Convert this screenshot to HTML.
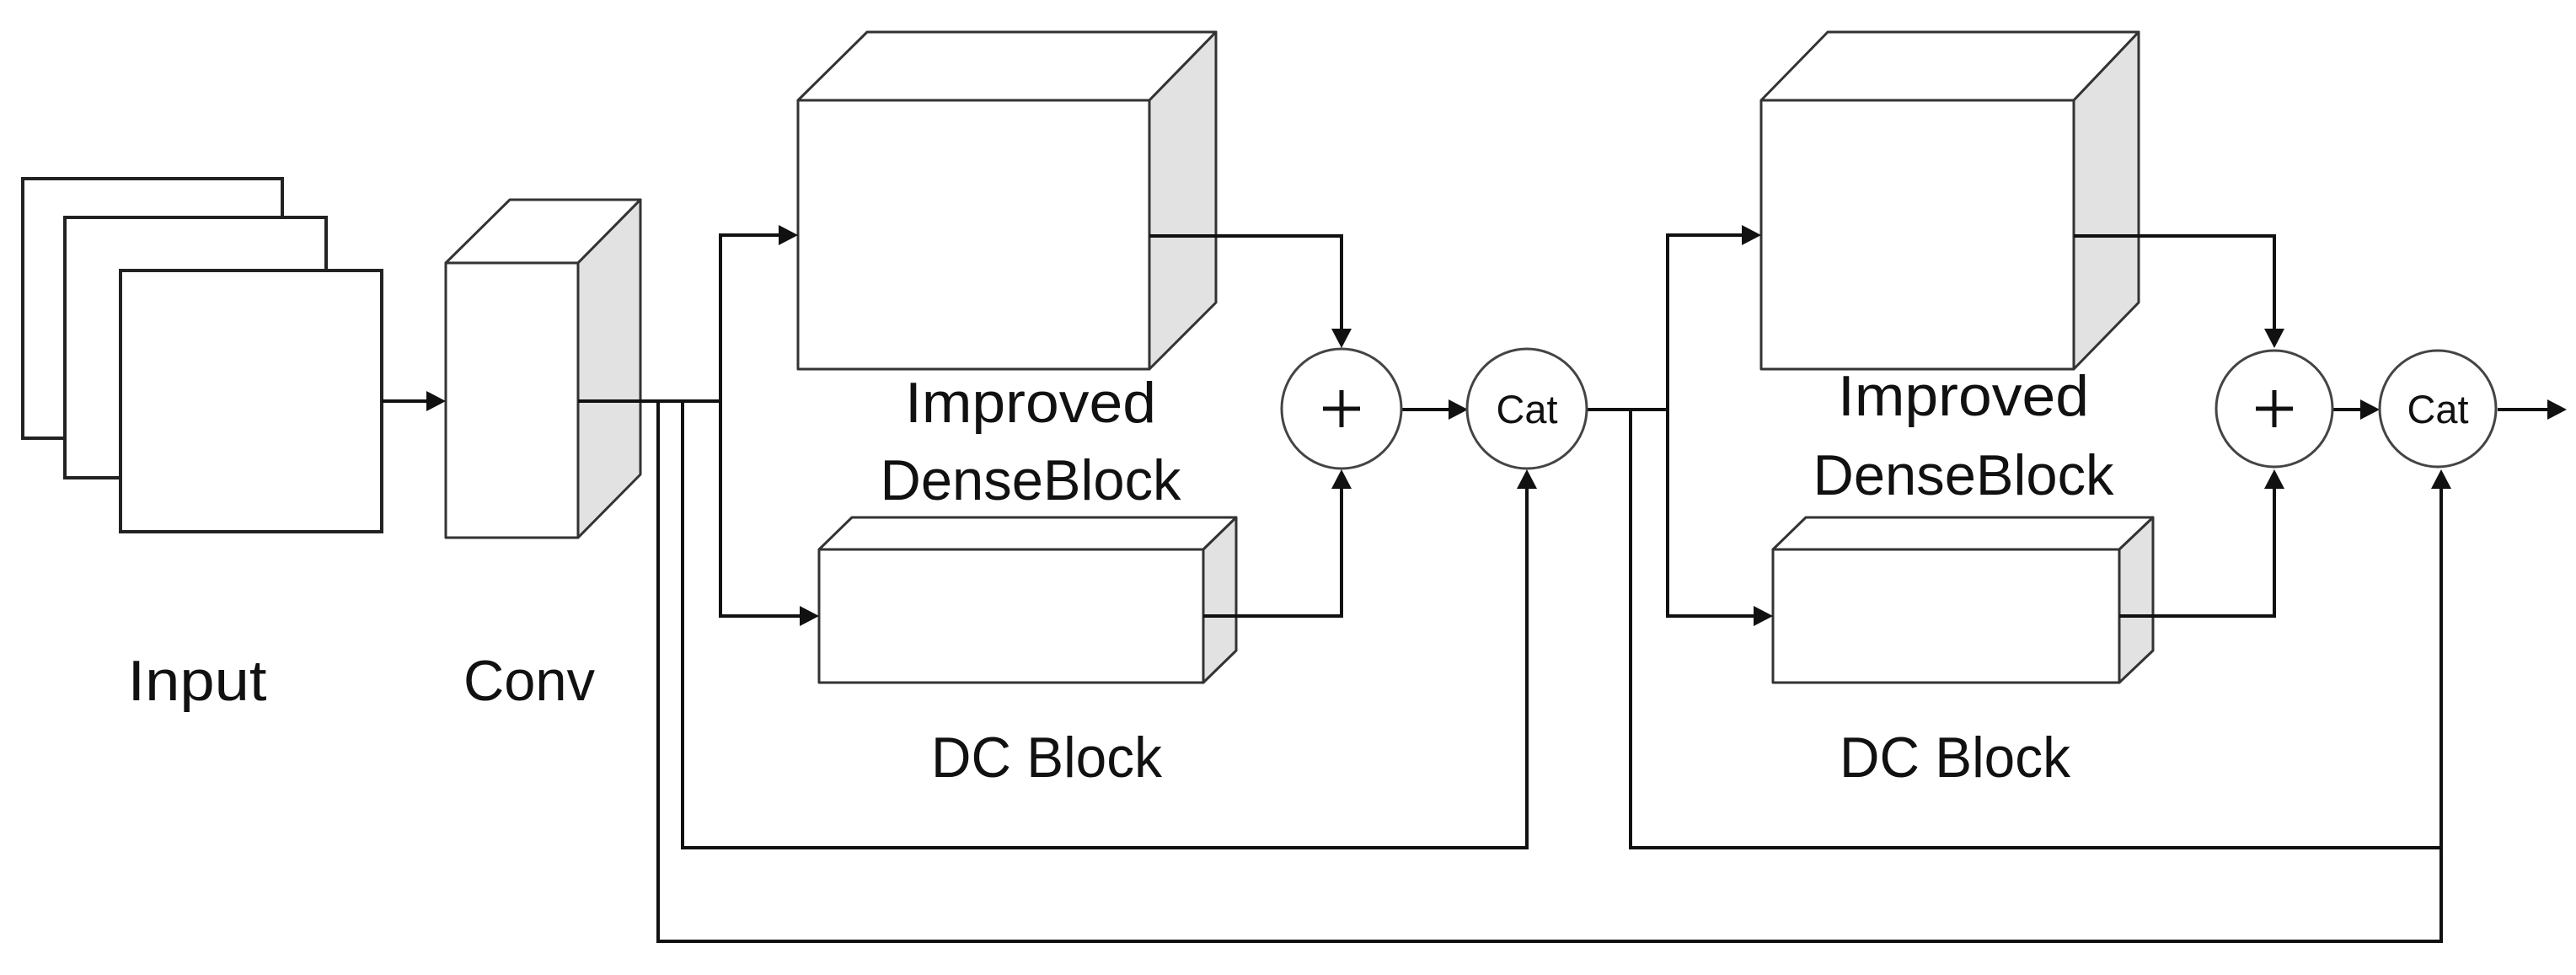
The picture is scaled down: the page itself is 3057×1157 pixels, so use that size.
<!DOCTYPE html>
<html><head><meta charset="utf-8"><style>
html,body{margin:0;padding:0;background:#fff;}
svg{display:block;}
text{font-family:"Liberation Sans",sans-serif;fill:#111;}
</style></head><body>
<svg width="3057" height="1157" viewBox="0 0 3057 1157" xmlns="http://www.w3.org/2000/svg">
<g stroke="#222" stroke-width="4" fill="#fff">
<rect x="27" y="212" width="308" height="308"/>
<rect x="77" y="258" width="310" height="309"/>
<rect x="143" y="321" width="310" height="310"/>
</g>
<g stroke="#333" stroke-width="3" stroke-linejoin="round">
<polygon points="529,312 605,237 760,237 686,312" fill="#fff"/>
<polygon points="686,312 760,237 760,563 686,638" fill="#e2e2e2"/>
<rect x="529" y="312" width="157" height="326" fill="#fff"/>
<polygon points="947,119 1029,38 1443,38 1364,119" fill="#fff"/>
<polygon points="1364,119 1443,38 1443,359 1364,438" fill="#e2e2e2"/>
<rect x="947" y="119" width="417" height="319" fill="#fff"/>
<polygon points="972,652 1011,614 1467,614 1428,652" fill="#fff"/>
<polygon points="1428,652 1467,614 1467,772 1428,810" fill="#e2e2e2"/>
<rect x="972" y="652" width="456" height="158" fill="#fff"/>
<polygon points="2090,119 2169,38 2538,38 2461,119" fill="#fff"/>
<polygon points="2461,119 2538,38 2538,359 2461,438" fill="#e2e2e2"/>
<rect x="2090" y="119" width="371" height="319" fill="#fff"/>
<polygon points="2104,652 2143,614 2555,614 2515,652" fill="#fff"/>
<polygon points="2515,652 2555,614 2555,772 2515,810" fill="#e2e2e2"/>
<rect x="2104" y="652" width="411" height="158" fill="#fff"/>
</g>
<g stroke="#111" stroke-width="4" fill="none">
<line x1="453" y1="476" x2="510" y2="476"/>
<polyline points="686,476 855,476"/>
<polyline points="928,279 855,279 855,731 950,731"/>
<polyline points="1364,280 1592,280 1592,395"/>
<polyline points="1428,731 1592,731 1592,575"/>
<line x1="1663" y1="486" x2="1722" y2="486"/>
<polyline points="810,476 810,1006 1812,1006 1812,575"/>
<polyline points="781,476 781,1117 2897,1117 2897,575"/>
<polyline points="1883,486 1979,486"/>
<polyline points="2070,279 1979,279 1979,731 2085,731"/>
<polyline points="1935,486 1935,1006 2897,1006"/>
<polyline points="2461,280 2699,280 2699,395"/>
<polyline points="2515,731 2699,731 2699,575"/>
<line x1="2768" y1="486" x2="2806" y2="486"/>
<line x1="2964" y1="486" x2="3028" y2="486"/>
</g>
<g fill="#111">
<polygon points="529,476 506,464 506,488"/>
<polygon points="947,279 924,267 924,291"/>
<polygon points="972,731 949,719 949,743"/>
<polygon points="1592,413 1580,390 1604,390"/>
<polygon points="1592,557 1580,580 1604,580"/>
<polygon points="1742,486 1719,474 1719,498"/>
<polygon points="1812,557 1800,580 1824,580"/>
<polygon points="2090,279 2067,267 2067,291"/>
<polygon points="2104,731 2081,719 2081,743"/>
<polygon points="2699,413 2687,390 2711,390"/>
<polygon points="2699,557 2687,580 2711,580"/>
<polygon points="2824,486 2801,474 2801,498"/>
<polygon points="2897,557 2885,580 2909,580"/>
<polygon points="3046,486 3023,474 3023,498"/>
</g>
<g stroke="#444" stroke-width="3" fill="#fff">
<circle cx="1592" cy="485" r="71"/>
<circle cx="1812" cy="485" r="71"/>
<circle cx="2699" cy="485" r="69"/>
<circle cx="2893" cy="485" r="69"/>
</g>
<g stroke="#111" stroke-width="5">
<line x1="1592" y1="463" x2="1592" y2="507"/><line x1="1570" y1="485" x2="1614" y2="485"/>
<line x1="2699" y1="463" x2="2699" y2="507"/><line x1="2677" y1="485" x2="2721" y2="485"/>
</g>
<text x="1812" y="502" font-size="47" text-anchor="middle" textLength="73" lengthAdjust="spacingAndGlyphs">Cat</text>
<text x="2893" y="502" font-size="47" text-anchor="middle" textLength="73" lengthAdjust="spacingAndGlyphs">Cat</text>
<g font-size="68">
<text x="234" y="831" text-anchor="middle" textLength="165" lengthAdjust="spacingAndGlyphs">Input</text>
<text x="628" y="831" text-anchor="middle" textLength="156" lengthAdjust="spacingAndGlyphs">Conv</text>
<text x="1223" y="501" text-anchor="middle" textLength="298" lengthAdjust="spacingAndGlyphs">Improved</text>
<text x="1223" y="593" text-anchor="middle" textLength="357" lengthAdjust="spacingAndGlyphs">DenseBlock</text>
<text x="2330" y="493" text-anchor="middle" textLength="298" lengthAdjust="spacingAndGlyphs">Improved</text>
<text x="2330" y="587" text-anchor="middle" textLength="357" lengthAdjust="spacingAndGlyphs">DenseBlock</text>
<text x="1242" y="922" text-anchor="middle" textLength="274" lengthAdjust="spacingAndGlyphs">DC Block</text>
<text x="2320" y="922" text-anchor="middle" textLength="274" lengthAdjust="spacingAndGlyphs">DC Block</text>
</g>
</svg>
</body></html>
